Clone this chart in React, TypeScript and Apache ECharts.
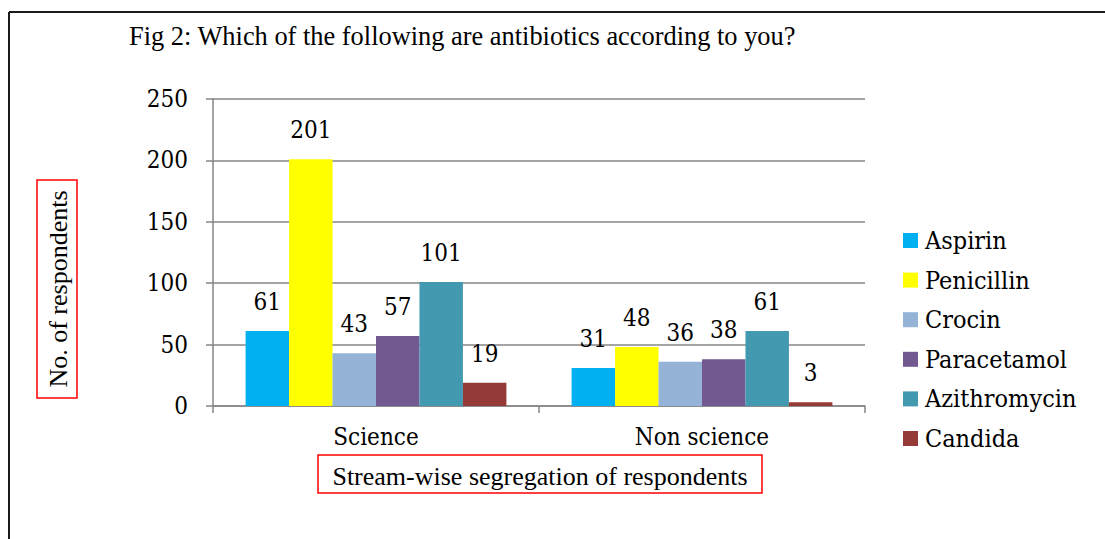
import React, { useEffect, useRef } from "react";
import * as echarts from "echarts";

const categories = ["Science", "Non science"];
const seriesNames = ["Aspirin", "Penicillin", "Crocin", "Paracetamol", "Azithromycin", "Candida"];
const aspirin = [61, 31];
const penicillin = [201, 48];
const crocin = [43, 36];
const paracetamol = [57, 38];
const azithromycin = [101, 61];
const candida = [19, 3];
const seriesValues = [aspirin, penicillin, crocin, paracetamol, azithromycin, candida];
const colors = ["#00B0F0", "#FFFF00", "#95B3D7", "#72598F", "#4299B0", "#963A37"];
const yTicks = [0, 50, 100, 150, 200, 250];

const titleText = "Fig 2: Which of the following are antibiotics according to you?";
const yName = "No. of respondents";
const xName = "Stream-wise segregation of respondents";

const numFont = '"DejaVu Serif Condensed", "DejaVu Serif", serif';
const timesFont = '"Liberation Serif", "Times New Roman", serif';

export default function App() {
  const ref = useRef<HTMLDivElement>(null);
  useEffect(() => {
    if (!ref.current) return;
    const chart = echarts.init(ref.current, null, { renderer: "svg" });
    chart.setOption({
      animation: false,
      backgroundColor: "#ffffff",
      title: {
        text: titleText,
        left: 124,
        top: 18,
        textStyle: { fontFamily: timesFont, fontSize: 26.4, fontWeight: "normal", color: "#000" },
      },
      grid: { left: 213, right: 240, top: 99, bottom: 133, containLabel: false },
      legend: {
        orient: "vertical",
        left: 898,
        top: 223,
        itemWidth: 15,
        itemHeight: 15,
        itemGap: 14.6,
        itemStyle: { borderWidth: 0 },
        icon: "rect",
        textStyle: { fontFamily: numFont, fontSize: 25, color: "#000", lineHeight: 24, padding: [0, 0, 0, 2] },
        data: seriesNames,
      },
      xAxis: {
        type: "category",
        data: categories,
        axisLine: { show: true, lineStyle: { color: "#868686", width: 1.5 } },
        axisTick: { show: true, length: 7, lineStyle: { color: "#868686", width: 1.5 } },
        axisLabel: { margin: 19, fontFamily: numFont, fontSize: 24, color: "#000" },
      },
      yAxis: {
        type: "value",
        min: yTicks[0],
        max: yTicks[yTicks.length - 1],
        interval: 50,
        axisLine: { show: true, lineStyle: { color: "#868686", width: 1.5 } },
        axisTick: { show: true, length: 7, inside: false, lineStyle: { color: "#868686", width: 1.5 } },
        splitLine: { show: true, lineStyle: { color: "#868686", width: 1.5 } },
        axisLabel: { margin: 25, fontFamily: numFont, fontSize: 24, color: "#000" },
      },
      series: seriesNames.map((name, i) => ({
        name,
        type: "bar",
        data: seriesValues[i],
        barGap: "0%",
        barCategoryGap: "20%",
        itemStyle: { color: colors[i] },
        label: {
          show: true,
          position: "top",
          distance: 17,
          fontFamily: numFont,
          fontSize: 24,
          color: "#000",
        },
      })),
      graphic: [
        { type: "line", shape: { x1: 9, y1: 12, x2: 1105, y2: 12 }, style: { stroke: "#1a1a1a", lineWidth: 2 } },
        { type: "line", shape: { x1: 9, y1: 12, x2: 9, y2: 539 }, style: { stroke: "#1a1a1a", lineWidth: 2 } },
        {
          type: "rect",
          shape: { x: 37, y: 180, width: 40, height: 218 },
          style: { fill: "none", stroke: "#ff0000", lineWidth: 1.5 },
        },
        {
          type: "text",
          x: 58,
          y: 289,
          rotation: Math.PI / 2,
          style: {
            text: yName,
            align: "center",
            verticalAlign: "middle",
            fontFamily: timesFont,
            fontSize: 26,
            fill: "#000",
          },
        },
        {
          type: "rect",
          shape: { x: 318, y: 455, width: 444, height: 38 },
          style: { fill: "none", stroke: "#ff0000", lineWidth: 1.5 },
        },
        {
          type: "text",
          x: 540,
          y: 476,
          style: {
            text: xName,
            align: "center",
            verticalAlign: "middle",
            fontFamily: timesFont,
            fontSize: 26,
            fill: "#000",
          },
        },
      ],
    });
    return () => chart.dispose();
  }, []);
  return <div ref={ref} style={{ width: 1105, height: 539, position: "absolute", left: 0, top: 0 }} />;
}
